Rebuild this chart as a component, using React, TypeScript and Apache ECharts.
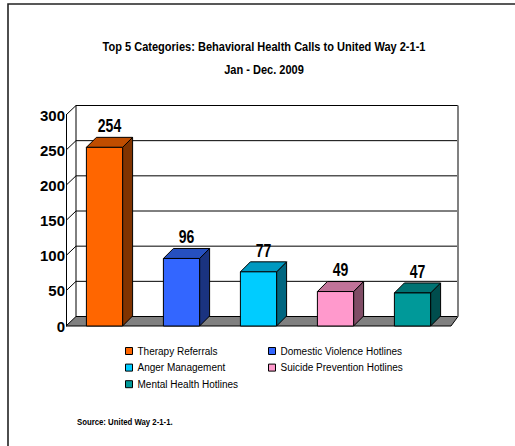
import React, { useEffect, useRef } from 'react';
import * as echarts from 'echarts';

const categories = [
  'Therapy Referrals',
  'Domestic Violence Hotlines',
  'Anger Management',
  'Suicide Prevention Hotlines',
  'Mental Health Hotlines',
];
const values = [254, 96, 77, 49, 47];
const frontColors = ['#FF6600', '#3366FF', '#00CCFF', '#FF99CC', '#009999'];
const topColors = ['#C04D00', '#2650C0', '#0099C0', '#C07399', '#007373'];
const sideColors = ['#803300', '#1A3380', '#006680', '#804D66', '#004D4D'];
const yTicks = [0, 50, 100, 150, 200, 250, 300];
const titleText = 'Top 5 Categories: Behavioral Health Calls to United Way 2-1-1';
const subtitleText = 'Jan - Dec. 2009';
const sourceText = 'Source: United Way 2-1-1.';

const FONT = "'Liberation Sans', Arial, sans-serif";
const DX = 10;
const DY = -10;
const WDXL = 10;
const WDXR = 7;
const WDY = -9.5;

export default function App() {
  const ref = useRef<HTMLDivElement>(null);
  useEffect(() => {
    if (!ref.current) return;
    const chart = echarts.init(ref.current, undefined, { renderer: 'svg' });

    const wallSeries: any = {
      type: 'custom',
      name: '__walls',
      silent: true,
      z: 1,
      data: yTicks.map((t) => [0, t]),
      encode: { x: 0, y: 1 },
      renderItem: (params: any, api: any) => {
        const cs = params.coordSys;
        const t = api.value(1);
        const y = api.coord([0, t])[1];
        const y0 = api.coord([0, 0])[1];
        const L = cs.x;
        const R = cs.x + cs.width;
        const children: any[] = [];
        if (t === 0) {
          children.push({
            type: 'polygon',
            shape: { points: [[L, y], [R, y], [R + WDXR, y + WDY], [L + WDXL, y + WDY]] },
            style: { fill: '#808080', stroke: '#000', lineWidth: 1 },
          });
        } else {
          children.push({
            type: 'line',
            shape: { x1: L, y1: y, x2: L + WDXL, y2: y + WDY },
            style: { stroke: '#000', lineWidth: 1 },
          });
          children.push({
            type: 'line',
            shape: { x1: L + WDXL, y1: y + WDY, x2: R + WDXR, y2: y + WDY },
            style: { stroke: '#000', lineWidth: 1 },
          });
        }
        if (t === yTicks[yTicks.length - 1]) {
          children.push({
            type: 'line',
            shape: { x1: L + WDXL, y1: y + WDY, x2: L + WDXL, y2: y0 + WDY },
            style: { stroke: '#000', lineWidth: 1 },
          });
          children.push({
            type: 'line',
            shape: { x1: R + WDXR, y1: y + WDY, x2: R + WDXR, y2: y0 + WDY },
            style: { stroke: '#808080', lineWidth: 2 },
          });
        }
        return { type: 'group', children };
      },
    };

    const barSeries = categories.map((name, i) => ({
      type: 'custom',
      name,
      z: 2,
      itemStyle: { color: frontColors[i] },
      data: [[i, values[i]]],
      encode: { x: 0, y: 1 },
      renderItem: (params: any, api: any) => {
        const xi = api.value(0);
        const v = api.value(1);
        const top = api.coord([xi, v]);
        const base = api.coord([xi, 0]);
        const w = api.size([1, 0])[0] * 0.47;
        const x0 = top[0] - w / 2;
        const x1 = top[0] + w / 2;
        const ty = top[1];
        const by = base[1];
        return {
          type: 'group',
          children: [
            {
              type: 'polygon',
              shape: { points: [[x1, ty], [x1 + DX, ty + DY], [x1 + DX, by + DY], [x1, by]] },
              style: { fill: sideColors[i], stroke: '#000', lineWidth: 1 },
            },
            {
              type: 'polygon',
              shape: { points: [[x0, ty], [x0 + DX, ty + DY], [x1 + DX, ty + DY], [x1, ty]] },
              style: { fill: topColors[i], stroke: '#000', lineWidth: 1 },
            },
            {
              type: 'rect',
              shape: { x: x0, y: ty, width: w, height: by - ty },
              style: { fill: frontColors[i], stroke: '#000', lineWidth: 1 },
            },
            {
              type: 'text',
              x: top[0] + DX / 2,
              y: ty - 22,
              scaleX: 0.78,
              style: {
                text: String(v),
                x: 0,
                y: 0,
                align: 'center',
                verticalAlign: 'middle',
                fontSize: 18,
                fontWeight: 'bold',
                fontFamily: FONT,
                fill: '#000',
              },
            },
          ],
        };
      },
    }));

    const legendCommon = {
      orient: 'vertical',
      top: 345,
      padding: 0,
      itemWidth: 7,
      itemHeight: 7,
      itemGap: 4.6,
      icon: 'rect',
      selectedMode: false,
      itemStyle: { borderColor: '#000', borderWidth: 1 },
      textStyle: { fontSize: 10, lineHeight: 12, fontFamily: FONT, color: '#000' },
    };

    chart.setOption({
      animation: false,
      grid: { left: 66, right: 64, top: 115, bottom: 120, containLabel: false },
      xAxis: {
        type: 'category',
        data: categories,
        axisLabel: { show: false },
        axisTick: { show: false },
        axisLine: { show: false },
        splitLine: { show: false },
      },
      yAxis: {
        type: 'value',
        min: 0,
        max: 300,
        interval: 50,
        axisLine: { show: true, lineStyle: { color: '#000', width: 1 } },
        axisTick: { show: false },
        splitLine: { show: false },
        axisLabel: {
          color: '#000',
          fontSize: 15,
          fontWeight: 'bold',
          fontFamily: FONT,
          margin: 1,
        },
      },
      legend: [
        { ...legendCommon, left: 125, data: [categories[0], categories[2], categories[4]] },
        { ...legendCommon, left: 268, data: [categories[1], categories[3]] },
      ],
      graphic: [
        {
          type: 'rect',
          silent: true,
          shape: { x: 8, y: 4, width: 700, height: 700 },
          style: { fill: 'none', stroke: '#222', lineWidth: 1.6 },
        },
        {
          type: 'text',
          x: 264,
          y: 47,
          scaleX: 0.92,
          style: {
            text: titleText,
            align: 'center',
            verticalAlign: 'middle',
            fontSize: 12,
            fontWeight: 'bold',
            fontFamily: FONT,
            fill: '#000',
          },
        },
        {
          type: 'text',
          x: 264,
          y: 70,
          scaleX: 0.92,
          style: {
            text: subtitleText,
            align: 'center',
            verticalAlign: 'middle',
            fontSize: 12,
            fontWeight: 'bold',
            fontFamily: FONT,
            fill: '#000',
          },
        },
        {
          type: 'text',
          x: 77,
          y: 422,
          scaleX: 0.82,
          style: {
            text: sourceText,
            align: 'left',
            verticalAlign: 'middle',
            fontSize: 9.5,
            fontWeight: 'bold',
            fontFamily: FONT,
            fill: '#000',
          },
        },
      ],
      series: [wallSeries, ...barSeries],
    });

    return () => {
      chart.dispose();
    };
  }, []);

  return (
    <div
      ref={ref}
      style={{ position: 'fixed', left: 0, top: 0, width: 515, height: 446, background: '#fff' }}
    />
  );
}
